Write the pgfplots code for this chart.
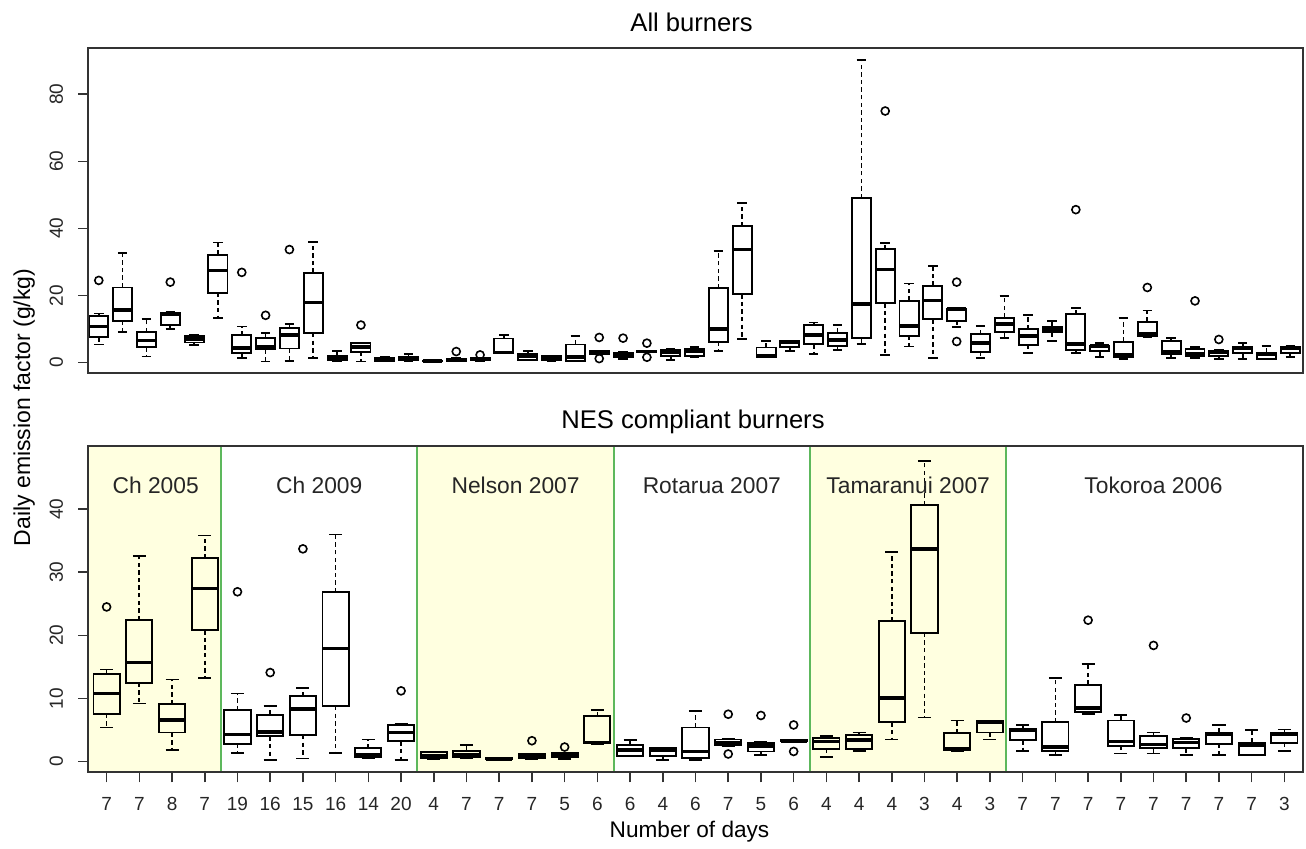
\documentclass[border=0pt]{standalone}
\usepackage{fontspec}
\setmainfont{Liberation Sans}
\usepackage{pgfplots}
\pgfplotsset{compat=1.18}
\usepgfplotslibrary{statistics}
\definecolor{bgyellow}{HTML}{FFFFE0}
\definecolor{sepgreen}{HTML}{5DB85C}
\definecolor{framegray}{HTML}{333333}
\pgfplotsset{
  bp/.style={black, line width=0.95pt, solid, mark=o, mark size=2.0pt,
    mark options={solid, draw=black, fill=none, line width=0.8pt},
    boxplot/draw direction=y,
    boxplot/box extend=0.8, boxplot/whisker extend=0.4,
    boxplot/every median/.style={line width=1.8pt},
    boxplot/draw/lower whisker/.code={%
      \draw[black, line width=0.85pt, dash pattern=on 2.2pt off 1.6pt]
        (boxplot box cs:\pgfkeysvalueof{/pgfplots/boxplot/lower quartile},0.5) --
        (boxplot box cs:\pgfkeysvalueof{/pgfplots/boxplot/lower whisker},0.5);
      \draw[black, line width=0.85pt, solid]
        (boxplot whisker cs:\pgfkeysvalueof{/pgfplots/boxplot/lower whisker},0) --
        (boxplot whisker cs:\pgfkeysvalueof{/pgfplots/boxplot/lower whisker},1);
    },
    boxplot/draw/upper whisker/.code={%
      \draw[black, line width=0.85pt, dash pattern=on 2.2pt off 1.6pt]
        (boxplot box cs:\pgfkeysvalueof{/pgfplots/boxplot/upper quartile},0.5) --
        (boxplot box cs:\pgfkeysvalueof{/pgfplots/boxplot/upper whisker},0.5);
      \draw[black, line width=0.85pt, solid]
        (boxplot whisker cs:\pgfkeysvalueof{/pgfplots/boxplot/upper whisker},0) --
        (boxplot whisker cs:\pgfkeysvalueof{/pgfplots/boxplot/upper whisker},1);
    },
  },
  common/.style={
    scale only axis, width=607.2pt, anchor=south west,
    axis line style={line width=0.9pt, framegray},
    every tick/.style={line width=0.8pt, framegray},
    tick align=outside, major tick length=5pt,
    xtick pos=lower, ytick pos=left,
    /pgf/number format/assume math mode=true,
    tick label style={font=\fontsize{9.5}{11}\selectfont, text=black!85},
    yticklabel style={rotate=90, anchor=south, inner sep=0pt},
    xticklabel style={anchor=north, inner sep=0pt},
    yticklabel shift=7.4pt, xticklabel shift=7.4pt,
    axis on top,
  },
}
\begin{document}
\begin{tikzpicture}
\useasboundingbox (0,0) rectangle (653pt,424.5pt);
% ---------------- top panel ----------------
\begin{axis}[common, at={(44.15pt,238.15pt)}, height=162.2pt,
  xmin=0.56, xmax=51.52, ymin=-3, ymax=93.7,
  xtick=\empty, ytick={0,20,40,60,80}]
\addplot[bp, boxplot prepared={draw position=1, lower whisker=5.4, lower quartile=7.6, median=10.8, upper quartile=13.9, upper whisker=14.6}] coordinates {(1,24.5)};
\addplot[bp, boxplot prepared={draw position=2, lower whisker=9.2, lower quartile=12.5, median=15.7, upper quartile=22.4, upper whisker=32.6}] coordinates {};
\addplot[bp, boxplot prepared={draw position=3, lower whisker=1.8, lower quartile=4.6, median=6.6, upper quartile=9.1, upper whisker=13.0}] coordinates {};
\addplot[bp, boxplot prepared={draw position=4, lower whisker=10.1, lower quartile=11.1, median=14.5, upper quartile=14.9, upper whisker=15.2}] coordinates {(4,24.0)};
\addplot[bp, boxplot prepared={draw position=5, lower whisker=5.2, lower quartile=6.0, median=7.0, upper quartile=8.0, upper whisker=8.3}] coordinates {};
\addplot[bp, boxplot prepared={draw position=6, lower whisker=13.2, lower quartile=20.8, median=27.4, upper quartile=32.2, upper whisker=35.8}] coordinates {};
\addplot[bp, boxplot prepared={draw position=7, lower whisker=1.4, lower quartile=2.8, median=4.3, upper quartile=8.1, upper whisker=10.8}] coordinates {(7,26.9)};
\addplot[bp, boxplot prepared={draw position=8, lower whisker=0.3, lower quartile=4.0, median=4.7, upper quartile=7.4, upper whisker=8.8}] coordinates {(8,14.1)};
\addplot[bp, boxplot prepared={draw position=9, lower whisker=0.5, lower quartile=4.2, median=8.3, upper quartile=10.4, upper whisker=11.6}] coordinates {(9,33.7)};
\addplot[bp, boxplot prepared={draw position=10, lower whisker=1.4, lower quartile=8.8, median=17.9, upper quartile=26.8, upper whisker=36.0}] coordinates {};
\addplot[bp, boxplot prepared={draw position=11, lower whisker=0.5, lower quartile=0.7, median=1.0, upper quartile=2.1, upper whisker=3.5}] coordinates {};
\addplot[bp, boxplot prepared={draw position=12, lower whisker=0.3, lower quartile=3.2, median=4.6, upper quartile=5.8, upper whisker=5.9}] coordinates {(12,11.2)};
\addplot[bp, boxplot prepared={draw position=13, lower whisker=0.4, lower quartile=0.5, median=0.9, upper quartile=1.5, upper whisker=1.6}] coordinates {};
\addplot[bp, boxplot prepared={draw position=14, lower whisker=0.5, lower quartile=0.7, median=1.05, upper quartile=1.7, upper whisker=2.6}] coordinates {};
\addplot[bp, boxplot prepared={draw position=15, lower whisker=0.3, lower quartile=0.4, median=0.45, upper quartile=0.5, upper whisker=0.6}] coordinates {};
\addplot[bp, boxplot prepared={draw position=16, lower whisker=0.4, lower quartile=0.5, median=0.8, upper quartile=1.2, upper whisker=1.3}] coordinates {(16,3.3)};
\addplot[bp, boxplot prepared={draw position=17, lower whisker=0.4, lower quartile=0.7, median=1.0, upper quartile=1.3, upper whisker=1.4}] coordinates {(17,2.3)};
\addplot[bp, boxplot prepared={draw position=18, lower whisker=2.8, lower quartile=2.9, median=3.0, upper quartile=7.2, upper whisker=8.2}] coordinates {};
\addplot[bp, boxplot prepared={draw position=19, lower whisker=0.8, lower quartile=0.9, median=1.85, upper quartile=2.6, upper whisker=3.4}] coordinates {};
\addplot[bp, boxplot prepared={draw position=20, lower whisker=0.3, lower quartile=0.9, median=1.75, upper quartile=2.1, upper whisker=2.15}] coordinates {};
\addplot[bp, boxplot prepared={draw position=21, lower whisker=0.3, lower quartile=0.6, median=1.6, upper quartile=5.4, upper whisker=8.0}] coordinates {};
\addplot[bp, boxplot prepared={draw position=22, lower whisker=2.4, lower quartile=2.6, median=3.0, upper quartile=3.5, upper whisker=3.6}] coordinates {(22,7.5) (22,1.2)};
\addplot[bp, boxplot prepared={draw position=23, lower whisker=1.05, lower quartile=1.6, median=2.5, upper quartile=3.0, upper whisker=3.1}] coordinates {(23,7.3)};
\addplot[bp, boxplot prepared={draw position=24, lower whisker=3.2, lower quartile=3.25, median=3.3, upper quartile=3.4, upper whisker=3.45}] coordinates {(24,5.8) (24,1.6)};
\addplot[bp, boxplot prepared={draw position=25, lower whisker=0.7, lower quartile=2.0, median=3.2, upper quartile=3.7, upper whisker=4.0}] coordinates {};
\addplot[bp, boxplot prepared={draw position=26, lower whisker=1.7, lower quartile=2.0, median=3.4, upper quartile=4.2, upper whisker=4.6}] coordinates {};
\addplot[bp, boxplot prepared={draw position=27, lower whisker=3.5, lower quartile=6.2, median=10.1, upper quartile=22.2, upper whisker=33.2}] coordinates {};
\addplot[bp, boxplot prepared={draw position=28, lower whisker=7.0, lower quartile=20.4, median=33.7, upper quartile=40.6, upper whisker=47.6}] coordinates {};
\addplot[bp, boxplot prepared={draw position=29, lower whisker=1.7, lower quartile=1.75, median=2.0, upper quartile=4.5, upper whisker=6.5}] coordinates {};
\addplot[bp, boxplot prepared={draw position=30, lower whisker=3.5, lower quartile=4.6, median=6.2, upper quartile=6.4, upper whisker=6.5}] coordinates {};
\addplot[bp, boxplot prepared={draw position=31, lower whisker=2.5, lower quartile=5.5, median=8.2, upper quartile=11.2, upper whisker=12.0}] coordinates {};
\addplot[bp, boxplot prepared={draw position=32, lower whisker=3.8, lower quartile=5.0, median=6.8, upper quartile=8.9, upper whisker=11.2}] coordinates {};
\addplot[bp, boxplot prepared={draw position=33, lower whisker=5.6, lower quartile=7.3, median=17.4, upper quartile=49.0, upper whisker=90.2}] coordinates {};
\addplot[bp, boxplot prepared={draw position=34, lower whisker=2.3, lower quartile=17.7, median=27.8, upper quartile=33.8, upper whisker=35.6}] coordinates {(34,75.0)};
\addplot[bp, boxplot prepared={draw position=35, lower whisker=4.8, lower quartile=8.0, median=11.0, upper quartile=18.5, upper whisker=23.6}] coordinates {};
\addplot[bp, boxplot prepared={draw position=36, lower whisker=1.3, lower quartile=12.9, median=18.5, upper quartile=22.9, upper whisker=28.9}] coordinates {};
\addplot[bp, boxplot prepared={draw position=37, lower whisker=10.7, lower quartile=12.4, median=15.9, upper quartile=16.1, upper whisker=16.4}] coordinates {(37,24.0) (37,6.3)};
\addplot[bp, boxplot prepared={draw position=38, lower whisker=1.3, lower quartile=3.3, median=5.8, upper quartile=8.5, upper whisker=11.0}] coordinates {};
\addplot[bp, boxplot prepared={draw position=39, lower whisker=7.3, lower quartile=9.0, median=11.5, upper quartile=13.4, upper whisker=19.9}] coordinates {};
\addplot[bp, boxplot prepared={draw position=40, lower whisker=2.9, lower quartile=5.3, median=8.0, upper quartile=9.9, upper whisker=14.2}] coordinates {};
\addplot[bp, boxplot prepared={draw position=41, lower whisker=6.5, lower quartile=9.0, median=10.0, upper quartile=10.7, upper whisker=12.5}] coordinates {};
\addplot[bp, boxplot prepared={draw position=42, lower whisker=2.8, lower quartile=3.8, median=5.5, upper quartile=14.4, upper whisker=16.2}] coordinates {(42,45.6)};
\addplot[bp, boxplot prepared={draw position=43, lower whisker=1.7, lower quartile=3.4, median=4.9, upper quartile=5.1, upper whisker=5.8}] coordinates {};
\addplot[bp, boxplot prepared={draw position=44, lower whisker=1.05, lower quartile=1.7, median=2.3, upper quartile=6.2, upper whisker=13.2}] coordinates {};
\addplot[bp, boxplot prepared={draw position=45, lower whisker=7.5, lower quartile=7.8, median=8.5, upper quartile=12.2, upper whisker=15.5}] coordinates {(45,22.4)};
\addplot[bp, boxplot prepared={draw position=46, lower whisker=1.3, lower quartile=2.5, median=3.2, upper quartile=6.5, upper whisker=7.4}] coordinates {};
\addplot[bp, boxplot prepared={draw position=47, lower whisker=1.3, lower quartile=2.1, median=2.7, upper quartile=4.0, upper whisker=4.6}] coordinates {(47,18.4)};
\addplot[bp, boxplot prepared={draw position=48, lower whisker=1.05, lower quartile=2.1, median=3.0, upper quartile=3.6, upper whisker=3.7}] coordinates {(48,6.9)};
\addplot[bp, boxplot prepared={draw position=49, lower whisker=1.05, lower quartile=2.8, median=4.4, upper quartile=4.6, upper whisker=5.8}] coordinates {};
\addplot[bp, boxplot prepared={draw position=50, lower whisker=0.95, lower quartile=1.0, median=2.6, upper quartile=3.0, upper whisker=5.0}] coordinates {};
\addplot[bp, boxplot prepared={draw position=51, lower whisker=1.7, lower quartile=3.0, median=4.4, upper quartile=4.6, upper whisker=5.1}] coordinates {};
\end{axis}
% ---------------- bottom panel ----------------
\begin{axis}[common, at={(44.15pt,38.35pt)}, height=163.15pt,
  xmin=0.44, xmax=37.56, ymin=-1.7, ymax=50,
  xtick={1,...,37},
  xticklabels={7,7,8,7,19,16,15,16,14,20,4,7,7,7,5,6,6,4,6,7,5,6,4,4,4,3,4,3,7,7,7,7,7,7,7,7,3},
  ytick={0,10,20,30,40}]
\fill[bgyellow] (axis cs:0.44,-1.7) rectangle (axis cs:4.5,50);
\fill[bgyellow] (axis cs:10.5,-1.7) rectangle (axis cs:16.5,50);
\fill[bgyellow] (axis cs:22.5,-1.7) rectangle (axis cs:28.5,50);
\draw[sepgreen, line width=1pt] (axis cs:4.5,-1.7) -- (axis cs:4.5,50);
\draw[sepgreen, line width=1pt] (axis cs:10.5,-1.7) -- (axis cs:10.5,50);
\draw[sepgreen, line width=1pt] (axis cs:16.5,-1.7) -- (axis cs:16.5,50);
\draw[sepgreen, line width=1pt] (axis cs:22.5,-1.7) -- (axis cs:22.5,50);
\draw[sepgreen, line width=1pt] (axis cs:28.5,-1.7) -- (axis cs:28.5,50);
\addplot[bp, boxplot prepared={draw position=1, lower whisker=5.4, lower quartile=7.6, median=10.8, upper quartile=13.9, upper whisker=14.6}] coordinates {(1,24.5)};
\addplot[bp, boxplot prepared={draw position=2, lower whisker=9.2, lower quartile=12.5, median=15.7, upper quartile=22.4, upper whisker=32.6}] coordinates {};
\addplot[bp, boxplot prepared={draw position=3, lower whisker=1.8, lower quartile=4.6, median=6.6, upper quartile=9.1, upper whisker=13.0}] coordinates {};
\addplot[bp, boxplot prepared={draw position=4, lower whisker=13.2, lower quartile=20.8, median=27.4, upper quartile=32.2, upper whisker=35.8}] coordinates {};
\addplot[bp, boxplot prepared={draw position=5, lower whisker=1.4, lower quartile=2.8, median=4.3, upper quartile=8.1, upper whisker=10.8}] coordinates {(5,26.9)};
\addplot[bp, boxplot prepared={draw position=6, lower whisker=0.3, lower quartile=4.0, median=4.7, upper quartile=7.4, upper whisker=8.8}] coordinates {(6,14.1)};
\addplot[bp, boxplot prepared={draw position=7, lower whisker=0.5, lower quartile=4.2, median=8.3, upper quartile=10.4, upper whisker=11.6}] coordinates {(7,33.7)};
\addplot[bp, boxplot prepared={draw position=8, lower whisker=1.4, lower quartile=8.8, median=17.9, upper quartile=26.8, upper whisker=36.0}] coordinates {};
\addplot[bp, boxplot prepared={draw position=9, lower whisker=0.5, lower quartile=0.7, median=1.0, upper quartile=2.1, upper whisker=3.5}] coordinates {};
\addplot[bp, boxplot prepared={draw position=10, lower whisker=0.3, lower quartile=3.2, median=4.6, upper quartile=5.8, upper whisker=5.9}] coordinates {(10,11.2)};
\addplot[bp, boxplot prepared={draw position=11, lower whisker=0.4, lower quartile=0.5, median=0.9, upper quartile=1.5, upper whisker=1.6}] coordinates {};
\addplot[bp, boxplot prepared={draw position=12, lower whisker=0.5, lower quartile=0.7, median=1.05, upper quartile=1.7, upper whisker=2.6}] coordinates {};
\addplot[bp, boxplot prepared={draw position=13, lower whisker=0.3, lower quartile=0.4, median=0.45, upper quartile=0.5, upper whisker=0.6}] coordinates {};
\addplot[bp, boxplot prepared={draw position=14, lower whisker=0.4, lower quartile=0.5, median=0.8, upper quartile=1.2, upper whisker=1.3}] coordinates {(14,3.3)};
\addplot[bp, boxplot prepared={draw position=15, lower whisker=0.4, lower quartile=0.7, median=1.0, upper quartile=1.3, upper whisker=1.4}] coordinates {(15,2.3)};
\addplot[bp, boxplot prepared={draw position=16, lower whisker=2.8, lower quartile=2.9, median=3.0, upper quartile=7.2, upper whisker=8.2}] coordinates {};
\addplot[bp, boxplot prepared={draw position=17, lower whisker=0.8, lower quartile=0.9, median=1.85, upper quartile=2.6, upper whisker=3.4}] coordinates {};
\addplot[bp, boxplot prepared={draw position=18, lower whisker=0.3, lower quartile=0.9, median=1.75, upper quartile=2.1, upper whisker=2.15}] coordinates {};
\addplot[bp, boxplot prepared={draw position=19, lower whisker=0.3, lower quartile=0.6, median=1.6, upper quartile=5.4, upper whisker=8.0}] coordinates {};
\addplot[bp, boxplot prepared={draw position=20, lower whisker=2.4, lower quartile=2.6, median=3.0, upper quartile=3.5, upper whisker=3.6}] coordinates {(20,7.5) (20,1.2)};
\addplot[bp, boxplot prepared={draw position=21, lower whisker=1.05, lower quartile=1.6, median=2.5, upper quartile=3.0, upper whisker=3.1}] coordinates {(21,7.3)};
\addplot[bp, boxplot prepared={draw position=22, lower whisker=3.2, lower quartile=3.25, median=3.3, upper quartile=3.4, upper whisker=3.45}] coordinates {(22,5.8) (22,1.6)};
\addplot[bp, boxplot prepared={draw position=23, lower whisker=0.7, lower quartile=2.0, median=3.2, upper quartile=3.7, upper whisker=4.0}] coordinates {};
\addplot[bp, boxplot prepared={draw position=24, lower whisker=1.7, lower quartile=2.0, median=3.4, upper quartile=4.2, upper whisker=4.6}] coordinates {};
\addplot[bp, boxplot prepared={draw position=25, lower whisker=3.5, lower quartile=6.2, median=10.1, upper quartile=22.2, upper whisker=33.2}] coordinates {};
\addplot[bp, boxplot prepared={draw position=26, lower whisker=7.0, lower quartile=20.4, median=33.7, upper quartile=40.6, upper whisker=47.6}] coordinates {};
\addplot[bp, boxplot prepared={draw position=27, lower whisker=1.7, lower quartile=1.75, median=2.0, upper quartile=4.5, upper whisker=6.5}] coordinates {};
\addplot[bp, boxplot prepared={draw position=28, lower whisker=3.5, lower quartile=4.6, median=6.2, upper quartile=6.4, upper whisker=6.5}] coordinates {};
\addplot[bp, boxplot prepared={draw position=29, lower whisker=1.7, lower quartile=3.4, median=4.9, upper quartile=5.1, upper whisker=5.8}] coordinates {};
\addplot[bp, boxplot prepared={draw position=30, lower whisker=1.05, lower quartile=1.7, median=2.3, upper quartile=6.2, upper whisker=13.2}] coordinates {};
\addplot[bp, boxplot prepared={draw position=31, lower whisker=7.5, lower quartile=7.8, median=8.5, upper quartile=12.2, upper whisker=15.5}] coordinates {(31,22.4)};
\addplot[bp, boxplot prepared={draw position=32, lower whisker=1.3, lower quartile=2.5, median=3.2, upper quartile=6.5, upper whisker=7.4}] coordinates {};
\addplot[bp, boxplot prepared={draw position=33, lower whisker=1.3, lower quartile=2.1, median=2.7, upper quartile=4.0, upper whisker=4.6}] coordinates {(33,18.4)};
\addplot[bp, boxplot prepared={draw position=34, lower whisker=1.05, lower quartile=2.1, median=3.0, upper quartile=3.6, upper whisker=3.7}] coordinates {(34,6.9)};
\addplot[bp, boxplot prepared={draw position=35, lower whisker=1.05, lower quartile=2.8, median=4.4, upper quartile=4.6, upper whisker=5.8}] coordinates {};
\addplot[bp, boxplot prepared={draw position=36, lower whisker=0.95, lower quartile=1.0, median=2.6, upper quartile=3.0, upper whisker=5.0}] coordinates {};
\addplot[bp, boxplot prepared={draw position=37, lower whisker=1.7, lower quartile=3.0, median=4.4, upper quartile=4.6, upper whisker=5.1}] coordinates {};
\node[font=\fontsize{11.4}{13}\selectfont, text=black!85, anchor=base] at (axis cs:2.5,42.4) {Ch 2005};
\node[font=\fontsize{11.4}{13}\selectfont, text=black!85, anchor=base] at (axis cs:7.5,42.4) {Ch 2009};
\node[font=\fontsize{11.4}{13}\selectfont, text=black!85, anchor=base] at (axis cs:13.5,42.4) {Nelson 2007};
\node[font=\fontsize{11.4}{13}\selectfont, text=black!85, anchor=base] at (axis cs:19.5,42.4) {Rotarua 2007};
\node[font=\fontsize{11.4}{13}\selectfont, text=black!85, anchor=base] at (axis cs:25.5,42.4) {Tamaranui 2007};
\node[font=\fontsize{11.4}{13}\selectfont, text=black!85, anchor=base] at (axis cs:33,42.4) {Tokoroa 2006};
\end{axis}
% ---------------- titles and axis labels ----------------
\node[font=\fontsize{12.8}{15}\selectfont, anchor=base] at (345.8pt,408.65pt) {All burners};
\node[font=\fontsize{12.8}{15}\selectfont, anchor=base] at (346.5pt,210pt) {NES compliant burners};
\node[font=\fontsize{11.3}{13}\selectfont, anchor=base] at (344.75pt,5.5pt) {Number of days};
\node[font=\fontsize{11.5}{13}\selectfont, anchor=base, rotate=90] at (15pt,220.75pt) {Daily emission factor (g/kg)};
\end{tikzpicture}
\end{document}
